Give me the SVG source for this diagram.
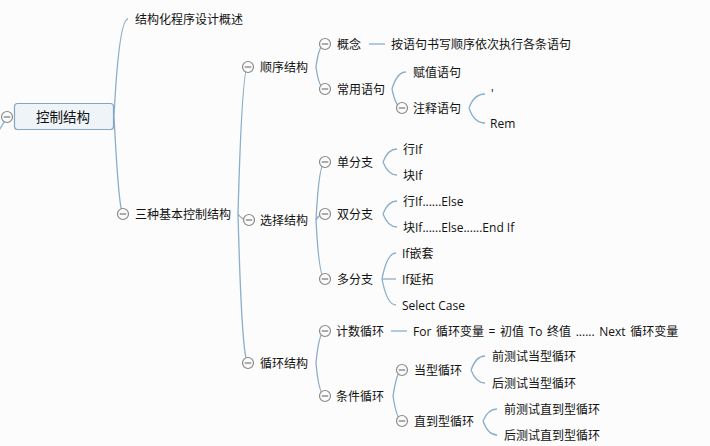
<svg xmlns="http://www.w3.org/2000/svg" width="710" height="446" viewBox="0 0 710 446">
<style>
text{font-family:"Open Sans","Noto Sans CJK SC",sans-serif;font-size:12px;fill:#111;dominant-baseline:central}
.root{font-size:13.5px;text-anchor:middle}
.c path,.c line{fill:none;stroke:#8aaecb;stroke-width:1.3}
</style>
<defs>
<g id="minus"><circle cx="0" cy="0" r="5.5" fill="#fbfbfb" stroke="#8a8a8a" stroke-width="1.2"/><line x1="-3.2" y1="0" x2="3.2" y2="0" stroke="#777" stroke-width="1.2"/></g>
</defs>
<rect width="710" height="446" fill="#fcfcfc"/>
<g id="connectors" class="c">
<line x1="7" y1="117" x2="-2" y2="132"/>
<path d="M114,116 Q119,19 128,19"/>
<path d="M114,116 Q119,214 123,213"/>
<path d="M238,214 Q242,67 248,66"/>
<path d="M238,214 Q242,220 248,220"/>
<path d="M238,214 Q242,363 248,362"/>
<path d="M316,67 Q319,44 325,44"/>
<path d="M316,67 Q319,89 325,89"/>
<line x1="369" y1="44" x2="385" y2="44"/>
<path d="M392,89 Q397,72 406,72"/>
<path d="M392,89 Q396,108 402,108"/>
<path d="M469,108 Q474,94 485,94"/>
<path d="M469,108 Q474,123 485,123"/>
<path d="M316,220 Q319,162 325,162"/>
<path d="M316,220 Q319,214 325,214"/>
<path d="M316,220 Q319,279 325,279"/>
<path d="M383,162 Q388,149 397,149"/>
<path d="M383,162 Q388,175 397,175"/>
<path d="M383,214 Q388,201 397,201"/>
<path d="M383,214 Q388,227 397,227"/>
<path d="M382,279 Q387,253 396,253"/>
<path d="M382,279 L396,279"/>
<path d="M382,279 Q387,305 396,305"/>
<path d="M316,363 Q319,331 325,331"/>
<path d="M316,363 Q319,396 325,396"/>
<line x1="391" y1="331" x2="407" y2="331"/>
<path d="M393,396 Q397,370 402,370"/>
<path d="M393,396 Q397,421 402,421"/>
<path d="M471,370 Q476,356 485,356"/>
<path d="M471,370 Q476,383 485,383"/>
<path d="M483,421 Q488,409 497,409"/>
<path d="M483,421 Q488,435 497,435"/>
</g>
<g id="root">
<rect x="14.5" y="103.5" width="99" height="26" rx="3" fill="#eef4f8" stroke="#86a6c2" stroke-width="1.2"/>
<text class="root" x="63" y="117">控制结构</text>
<use href="#minus" x="7" y="117"/>
</g>
<g id="n-jgh"><text x="135" y="19">结构化程序设计概述</text></g>
<g id="n-szjb"><use href="#minus" x="123" y="214"/><text x="135" y="214">三种基本控制结构</text></g>
<g id="n-sx"><use href="#minus" x="248" y="67"/><text x="260" y="67">顺序结构</text></g>
<g id="n-gn"><use href="#minus" x="325" y="44"/><text x="337" y="44">概念</text></g>
<g id="n-gn-t"><text x="391" y="44">按语句书写顺序依次执行各条语句</text></g>
<g id="n-cy"><use href="#minus" x="325" y="89"/><text x="337" y="89">常用语句</text></g>
<g id="n-fz"><text x="413" y="72">赋值语句</text></g>
<g id="n-zs"><use href="#minus" x="402" y="108"/><text x="413" y="108">注释语句</text></g>
<g id="n-q"><text x="491" y="93">'</text></g>
<g id="n-rem"><text x="490" y="123">Rem</text></g>
<g id="n-xz"><use href="#minus" x="249" y="220"/><text x="260" y="220">选择结构</text></g>
<g id="n-dfz"><use href="#minus" x="325" y="162"/><text x="337" y="162">单分支</text></g>
<g id="n-hif"><text x="403" y="149">行If</text></g>
<g id="n-kif"><text x="403" y="175">块If</text></g>
<g id="n-sfz"><use href="#minus" x="325" y="214"/><text x="337" y="214">双分支</text></g>
<g id="n-hife"><text x="403" y="201">行If......Else</text></g>
<g id="n-kife"><text x="403" y="227">块If......Else......End If</text></g>
<g id="n-dfz2"><use href="#minus" x="325" y="279"/><text x="337" y="279">多分支</text></g>
<g id="n-ifqt"><text x="402" y="253">If嵌套</text></g>
<g id="n-ifyt"><text x="402" y="279">If延拓</text></g>
<g id="n-sc"><text x="402" y="305">Select Case</text></g>
<g id="n-xh"><use href="#minus" x="248" y="363"/><text x="260" y="363">循环结构</text></g>
<g id="n-jsxh"><use href="#minus" x="325" y="331"/><text x="336" y="331">计数循环</text></g>
<g id="n-for"><text x="413" y="331" word-spacing="1.5">For 循环变量 = 初值 To 终值 ...... Next 循环变量</text></g>
<g id="n-tjxh"><use href="#minus" x="325" y="396"/><text x="336" y="396">条件循环</text></g>
<g id="n-dx"><use href="#minus" x="402" y="370"/><text x="414" y="370">当型循环</text></g>
<g id="n-dx1"><text x="492" y="356">前测试当型循环</text></g>
<g id="n-dx2"><text x="492" y="383">后测试当型循环</text></g>
<g id="n-zd"><use href="#minus" x="402" y="421"/><text x="414" y="421">直到型循环</text></g>
<g id="n-zd1"><text x="504" y="409">前测试直到型循环</text></g>
<g id="n-zd2"><text x="504" y="435">后测试直到型循环</text></g>
</svg>
